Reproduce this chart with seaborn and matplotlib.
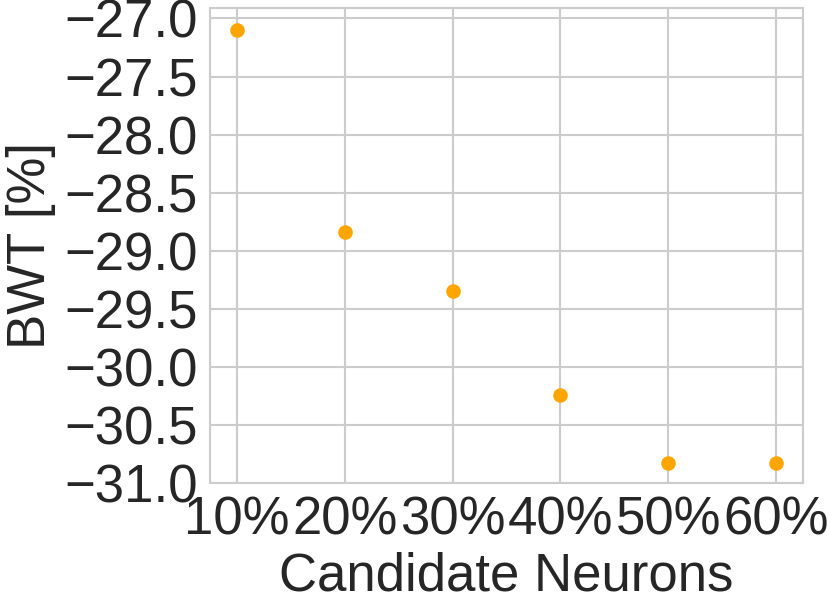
import matplotlib
matplotlib.use("Agg")
import matplotlib.pyplot as plt
import seaborn as sns
import pandas as pd

categories = ["10%", "20%", "30%", "40%", "50%", "60%"]
bwt = [-27.10, -28.84, -29.35, -30.24, -30.825, -30.825]

sns.set_theme(style="whitegrid")
plt.rcParams['font.family'] = ['Liberation Sans', 'DejaVu Sans']
plt.rcParams['axes.unicode_minus'] = True

df = pd.DataFrame({"Candidate Neurons": categories, "BWT [%]": bwt})

fig, ax = plt.subplots(figsize=(8.3, 6.08), dpi=100)
sns.scatterplot(data=df, x="Candidate Neurons", y="BWT [%]", color="#FFA500",
                s=110, linewidth=0, ax=ax)
ax.set_xlabel("Candidate Neurons", fontsize=38, color="#262626", labelpad=4)
ax.set_ylabel("BWT [%]", fontsize=38, color="#262626", labelpad=6)
ax.tick_params(axis="both", labelsize=38, colors="#262626", pad=3)
ax.set_yticks([-27.0, -27.5, -28.0, -28.5, -29.0, -29.5, -30.0, -30.5, -31.0])
ax.set_ylim(-31.0, -26.91)
ax.set_xlim(-0.25, 5.25)
for sp in ax.spines.values():
    sp.set_color("#cccccc")
    sp.set_linewidth(1.5)
ax.grid(color="#cccccc", linewidth=1.5)
fig.subplots_adjust(left=0.253, right=0.9675, top=0.9868, bottom=0.2056)
fig.savefig("out.png", dpi=100)
